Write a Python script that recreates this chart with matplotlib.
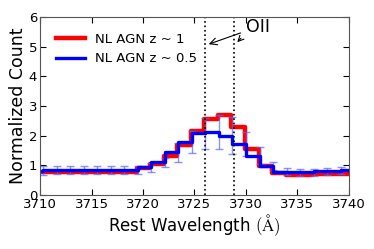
import numpy as np
import matplotlib
matplotlib.use("Agg")
import matplotlib.pyplot as plt

plt.rcParams['mathtext.fontset'] = 'cm'
plt.rcParams['font.family'] = 'DejaVu Sans'

# Binned OII profiles (bin right edges, steps drawn 'pre')
wave_blue = [3709.01, 3710.32, 3711.63, 3712.94, 3714.26, 3715.57, 3716.88, 3718.19,
             3719.50, 3720.82, 3722.13, 3723.44, 3724.76, 3726.07, 3727.38, 3728.69,
             3730.00, 3731.32, 3732.63, 3733.94, 3735.25, 3736.56, 3737.88, 3739.19,
             3740.50]
count_blue = [0.82, 0.82, 0.83, 0.84, 0.85, 0.85, 0.84, 0.84, 0.85, 0.93, 1.10, 1.44,
              1.78, 2.08, 2.12, 2.00, 1.72, 1.33, 0.98, 0.78, 0.76, 0.77, 0.80, 0.82,
              0.83]
err_blue = [0.14, 0.14, 0.14, 0.14, 0.14, 0.14, 0.14, 0.14, 0.14, 0.14, 0.16, 0.32,
            0.38, 0.52, 0.57, 0.62, 0.41, 0.27, 0.14, 0.12, 0.12, 0.12, 0.12, 0.12,
            0.12]

wave_red = [3708.91, 3710.22, 3711.53, 3712.84, 3714.16, 3715.47, 3716.78, 3718.09,
            3719.40, 3720.72, 3722.03, 3723.34, 3724.66, 3725.97, 3727.28, 3728.59,
            3729.90, 3731.22, 3732.53, 3733.84, 3735.15, 3736.46, 3737.78, 3739.09,
            3740.40]
count_red = [0.76, 0.76, 0.77, 0.78, 0.79, 0.79, 0.78, 0.78, 0.78, 0.90, 1.03, 1.30,
             1.68, 2.17, 2.57, 2.68, 2.30, 1.56, 0.99, 0.74, 0.68, 0.68, 0.69, 0.70,
             0.70]

oii_lines = [3726.03, 3728.82]

fig = plt.figure(figsize=(3.74, 2.49), dpi=100)
ax = fig.add_axes([0.107, 0.217, 0.826, 0.715])

ax.step(wave_red, count_red, where='pre', color='red', lw=3.2, label='NL AGN z ~ 1')
ax.errorbar(wave_blue, count_blue, yerr=err_blue, fmt='none', ecolor='#5566ff',
            alpha=0.7, elinewidth=1, capsize=3)
ax.step(wave_blue, count_blue, where='pre', color='blue', lw=2.4, label='NL AGN z ~ 0.5')

for w in oii_lines:
    ax.axvline(w, color='black', ls=':', lw=1.2)

ax.annotate('OII', xy=(oii_lines[0] + 0.1, 5.05), xytext=(3730.0, 5.5),
            fontsize=12.5, arrowprops=dict(arrowstyle='->', color='black', lw=0.8))
ax.annotate('', xy=(oii_lines[1] + 0.15, 5.08), xytext=(3729.7, 5.35),
            arrowprops=dict(arrowstyle='->', color='black', lw=0.8))

ax.set_xlim(3710, 3740)
ax.set_ylim(0, 6)
ax.set_xticks([3710, 3715, 3720, 3725, 3730, 3735, 3740])
ax.tick_params(direction='in', top=True, right=True, labelsize=9.5, length=4, pad=2)
ax.set_xlabel(r'Rest Wavelength $(\mathrm{\AA})$', fontsize=12, labelpad=1)
ax.set_ylabel('Normalized Count', fontsize=12.5, labelpad=1)
for s in ax.spines.values():
    s.set_color('#555555')

ax.legend(loc='upper left', frameon=False, fontsize=9.5, handlelength=2.2,
          borderaxespad=0.8)

plt.savefig('out.png', dpi=100)
